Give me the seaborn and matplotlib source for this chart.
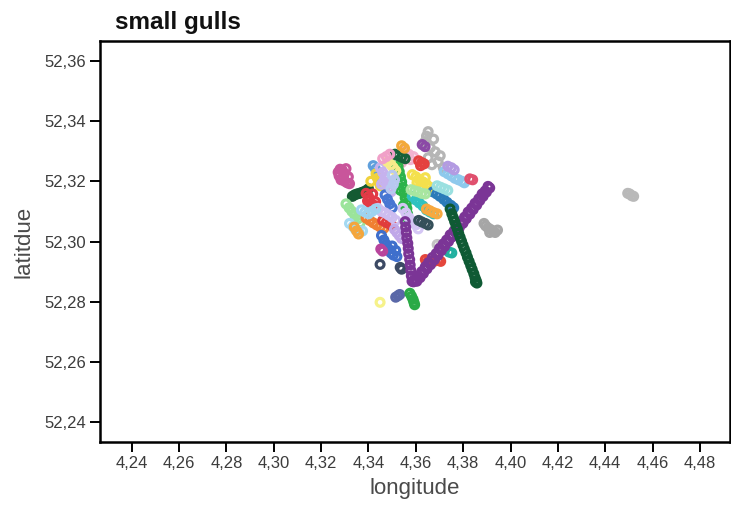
import numpy as np
import pandas as pd
import matplotlib
matplotlib.use("Agg")
import matplotlib.pyplot as plt
import seaborn as sns

# ---- GPS fixes per individual (longitude / latitude, decimal degrees) ----
lon_g01 = [4.3652, 4.3639, 4.3661, 4.3682, 4.3652, 4.3694, 4.3716, 4.3668, 4.3703, 4.3645, 4.3675]
lat_g01 = [52.3365, 52.3332, 52.3312, 52.3298, 52.3278, 52.3265, 52.3245, 52.3255, 52.3285, 52.3350, 52.3340]
lon_g02 = [4.3555, 4.3570, 4.3590, 4.3578, 4.3540]
lat_g02 = [52.3300, 52.3290, 52.3282, 52.3272, 52.3262]
lon_g03 = [4.3272, 4.3280, 4.3290, 4.3298, 4.3292, 4.3284, 4.3300, 4.3310, 4.3320, 4.3315, 4.3276, 4.3305]
lat_g03 = [52.3230, 52.3240, 52.3236, 52.3225, 52.3212, 52.3205, 52.3200, 52.3195, 52.3192, 52.3215, 52.3218, 52.3242]
lon_g04 = [4.3332, 4.3342, 4.3352, 4.3362, 4.3372, 4.3382, 4.3392, 4.3400]
lat_g04 = [52.3150, 52.3155, 52.3158, 52.3160, 52.3163, 52.3166, 52.3170, 52.3175]
lon_g05 = [4.3390, 4.3400, 4.3396, 4.3410, 4.3420, 4.3405, 4.3418, 4.3430, 4.3425]
lat_g05 = [52.3160, 52.3150, 52.3135, 52.3125, 52.3115, 52.3140, 52.3158, 52.3132, 52.3120]
lon_g06 = [4.3420, 4.3430, 4.3436, 4.3440]
lat_g06 = [52.3252, 52.3240, 52.3228, 52.3215]
lon_g07 = [4.3432, 4.3438, 4.3444, 4.3450, 4.3410]
lat_g07 = [52.3225, 52.3210, 52.3198, 52.3185, 52.3200]
lon_g08 = [4.3450, 4.3460, 4.3470, 4.3465, 4.3478, 4.3488, 4.3495, 4.3455]
lat_g08 = [52.3245, 52.3230, 52.3215, 52.3200, 52.3190, 52.3178, 52.3165, 52.3190]
lon_g09 = [4.3520, 4.3525, 4.3530, 4.3535, 4.3540, 4.3545, 4.3550, 4.3555, 4.3560, 4.3562, 4.3565, 4.3568, 4.3548, 4.3535, 4.3515]
lat_g09 = [52.3268, 52.3250, 52.3232, 52.3215, 52.3198, 52.3180, 52.3162, 52.3145, 52.3128, 52.3110, 52.3092, 52.3075, 52.3120, 52.3170, 52.3240]
lon_g10 = [4.3585, 4.3600, 4.3615, 4.3630, 4.3645, 4.3660, 4.3640, 4.3620, 4.3605]
lat_g10 = [52.3222, 52.3215, 52.3205, 52.3198, 52.3190, 52.3180, 52.3212, 52.3185, 52.3195]
lon_g11 = [4.3585, 4.3600, 4.3615, 4.3630, 4.3645, 4.3660, 4.3675]
lat_g11 = [52.3150, 52.3138, 52.3128, 52.3118, 52.3105, 52.3098, 52.3092]
lon_g12 = [4.3672, 4.3688, 4.3702, 4.3718, 4.3732, 4.3748, 4.3760]
lat_g12 = [52.3165, 52.3158, 52.3150, 52.3140, 52.3130, 52.3120, 52.3112]
lon_g13 = [4.3720, 4.3735, 4.3750, 4.3765, 4.3780, 4.3795, 4.3805]
lat_g13 = [52.3232, 52.3225, 52.3218, 52.3210, 52.3205, 52.3200, 52.3195]
lon_g14 = [4.3828, 4.3840]
lat_g14 = [52.3208, 52.3205]
lon_g15 = [4.3305, 4.3318, 4.3330, 4.3342, 4.3355, 4.3365]
lat_g15 = [52.3125, 52.3112, 52.3100, 52.3088, 52.3075, 52.3062]
lon_g16 = [4.3320, 4.3335, 4.3345, 4.3360, 4.3375]
lat_g16 = [52.3060, 52.3050, 52.3040, 52.3030, 52.3035]
lon_g17 = [4.3390, 4.3405, 4.3420, 4.3435, 4.3450, 4.3465]
lat_g17 = [52.3078, 52.3070, 52.3062, 52.3055, 52.3048, 52.3044]
lon_g18 = [4.3460, 4.3475, 4.3490, 4.3500]
lat_g18 = [52.3070, 52.3063, 52.3058, 52.3052]
lon_g19 = [4.3340, 4.3350, 4.3358]
lat_g19 = [52.3048, 52.3035, 52.3025]
lon_g20 = [4.3545, 4.3558, 4.3570, 4.3585, 4.3600, 4.3610]
lat_g20 = [52.3110, 52.3095, 52.3080, 52.3068, 52.3055, 52.3042]
lon_g21 = [4.3645, 4.3660, 4.3675, 4.3690]
lat_g21 = [52.3108, 52.3102, 52.3096, 52.3092]
lon_g22 = [4.3612, 4.3625, 4.3640, 4.3652]
lat_g22 = [52.3070, 52.3065, 52.3060, 52.3055]
lon_g23 = [4.3470, 4.3480, 4.3490, 4.3500]
lat_g23 = [52.3155, 52.3140, 52.3125, 52.3112]
lon_g24 = [4.3455, 4.3465, 4.3475, 4.3485, 4.3495, 4.3505, 4.3515, 4.3500, 4.3520]
lat_g24 = [52.3020, 52.3005, 52.2990, 52.2975, 52.2962, 52.2955, 52.2970, 52.2985, 52.2950]
lon_g25 = [4.3452, 4.3460]
lat_g25 = [52.2975, 52.2968]
lon_g26 = [4.3449, 4.3534, 4.3540]
lat_g26 = [52.2924, 52.2914, 52.2908]
lon_g27 = [4.3515, 4.3525, 4.3532]
lat_g27 = [52.2815, 52.2820, 52.2824]
lon_g28 = [4.3575, 4.3582, 4.3588, 4.3592, 4.3595]
lat_g28 = [52.2828, 52.2818, 52.2808, 52.2798, 52.2790]
lon_g29 = [4.3449]
lat_g29 = [52.2798]
lon_g30 = [4.3640, 4.3652, 4.3665, 4.3680, 4.3695, 4.3705]
lat_g30 = [52.2940, 52.2935, 52.2932, 52.2935, 52.2938, 52.2934]
lon_g31 = [4.3690, 4.3705, 4.3720]
lat_g31 = [52.2990, 52.2985, 52.2980]
lon_g32 = [4.3740, 4.3752]
lat_g32 = [52.2965, 52.2962]
lon_g33 = [4.3888, 4.3895, 4.3905, 4.3915, 4.3925, 4.3935, 4.3945, 4.3912]
lat_g33 = [52.3060, 52.3052, 52.3045, 52.3040, 52.3035, 52.3030, 52.3038, 52.3030]
lon_g34 = [4.4495, 4.4503, 4.4512, 4.4520]
lat_g34 = [52.3160, 52.3158, 52.3152, 52.3150]
lon_g35 = [4.3612, 4.3625, 4.3635, 4.3620]
lat_g35 = [52.3268, 52.3262, 52.3258, 52.3252]
lon_g36 = [4.3512, 4.3525, 4.3540, 4.3555]
lat_g36 = [52.3290, 52.3285, 52.3280, 52.3275]
lon_g37 = [4.3540, 4.3552]
lat_g37 = [52.3318, 52.3310]
lon_g38 = [4.3627, 4.3639]
lat_g38 = [52.3322, 52.3315]
lon_g39 = [4.3735, 4.3750, 4.3762]
lat_g39 = [52.3250, 52.3245, 52.3238]
lon_g40 = [4.3800]
lat_g40 = [52.3063]
lon_g43 = [4.3440, 4.3455, 4.3470, 4.3485, 4.3500, 4.3515]
lat_g43 = [52.3110, 52.3100, 52.3095, 52.3088, 52.3080, 52.3070]
lon_g44 = [4.3370, 4.3385, 4.3400, 4.3415, 4.3430]
lat_g44 = [52.3105, 52.3098, 52.3092, 52.3100, 52.3108]
lon_g45 = [4.3580, 4.3595, 4.3610, 4.3625, 4.3640]
lat_g45 = [52.3172, 52.3168, 52.3165, 52.3160, 52.3158]
lon_g46 = [4.3480, 4.3495, 4.3505, 4.3515]
lat_g46 = [52.3265, 52.3255, 52.3245, 52.3235]
lon_g47 = [4.3500, 4.3510, 4.3505, 4.3495]
lat_g47 = [52.3220, 52.3205, 52.3190, 52.3175]
lon_g48 = [4.3460, 4.3475, 4.3490]
lat_g48 = [52.3275, 52.3282, 52.3290]
lon_g49 = [4.3690, 4.3705, 4.3720, 4.3735]
lat_g49 = [52.3185, 52.3180, 52.3175, 52.3170]
lon_g50 = [4.3510, 4.3520, 4.3530, 4.3540]
lat_g50 = [52.3040, 52.3030, 52.3020, 52.3010]
# long commuting tracks
lon_g41 = [4.3905, 4.3893, 4.3880, 4.3866, 4.3850, 4.3836, 4.3821, 4.3806, 4.3790, 4.3775,
           4.3761, 4.3745, 4.3730, 4.3716, 4.3700, 4.3686, 4.3670, 4.3654, 4.3640, 4.3625,
           4.3610, 4.3597, 4.3590,
           4.3912, 4.3898, 4.3884, 4.3870, 4.3857, 4.3842, 4.3828, 4.3813, 4.3798, 4.3783,
           4.3768, 4.3753, 4.3738, 4.3722, 4.3708, 4.3693, 4.3678, 4.3662, 4.3647, 4.3632,
           4.3618, 4.3604,
           4.3555, 4.3557, 4.3560, 4.3562, 4.3566, 4.3568, 4.3570, 4.3574, 4.3576, 4.3579,
           4.3581, 4.3584]
lat_g41 = [52.3183, 52.3168, 52.3158, 52.3142, 52.3127, 52.3111, 52.3098, 52.3081, 52.3066, 52.3052,
           52.3035, 52.3022, 52.3005, 52.2992, 52.2977, 52.2960, 52.2947, 52.2930, 52.2916, 52.2900,
           52.2886, 52.2873, 52.2866,
           52.3178, 52.3164, 52.3150, 52.3136, 52.3121, 52.3106, 52.3091, 52.3076, 52.3060, 52.3045,
           52.3030, 52.3015, 52.3000, 52.2984, 52.2970, 52.2954, 52.2939, 52.2923, 52.2909, 52.2894,
           52.2880, 52.2868,
           52.3066, 52.3048, 52.3030, 52.3012, 52.2994, 52.2977, 52.2959, 52.2940, 52.2922, 52.2904,
           52.2886, 52.2868]
lon_g42 = [4.3745, 4.3752, 4.3758, 4.3764, 4.3770, 4.3776, 4.3781, 4.3787, 4.3793, 4.3799,
           4.3805, 4.3812, 4.3818, 4.3825, 4.3832, 4.3838, 4.3845, 4.3850, 4.3855, 4.3858, 4.3852]
lat_g42 = [52.3108, 52.3092, 52.3079, 52.3066, 52.3052, 52.3040, 52.3027, 52.3014, 52.3001, 52.2988,
           52.2975, 52.2962, 52.2948, 52.2934, 52.2920, 52.2907, 52.2893, 52.2880, 52.2870, 52.2862, 52.2866]

tracks = {
    "g01": (lon_g01, lat_g01), "g02": (lon_g02, lat_g02), "g03": (lon_g03, lat_g03),
    "g04": (lon_g04, lat_g04), "g05": (lon_g05, lat_g05), "g06": (lon_g06, lat_g06),
    "g07": (lon_g07, lat_g07), "g08": (lon_g08, lat_g08), "g09": (lon_g09, lat_g09),
    "g10": (lon_g10, lat_g10), "g11": (lon_g11, lat_g11), "g12": (lon_g12, lat_g12),
    "g13": (lon_g13, lat_g13), "g14": (lon_g14, lat_g14), "g15": (lon_g15, lat_g15),
    "g16": (lon_g16, lat_g16), "g17": (lon_g17, lat_g17), "g18": (lon_g18, lat_g18),
    "g19": (lon_g19, lat_g19), "g20": (lon_g20, lat_g20), "g21": (lon_g21, lat_g21),
    "g22": (lon_g22, lat_g22), "g23": (lon_g23, lat_g23), "g24": (lon_g24, lat_g24),
    "g25": (lon_g25, lat_g25), "g26": (lon_g26, lat_g26), "g27": (lon_g27, lat_g27),
    "g28": (lon_g28, lat_g28), "g29": (lon_g29, lat_g29), "g30": (lon_g30, lat_g30),
    "g31": (lon_g31, lat_g31), "g32": (lon_g32, lat_g32), "g33": (lon_g33, lat_g33),
    "g34": (lon_g34, lat_g34), "g35": (lon_g35, lat_g35), "g36": (lon_g36, lat_g36),
    "g37": (lon_g37, lat_g37), "g38": (lon_g38, lat_g38), "g39": (lon_g39, lat_g39),
    "g40": (lon_g40, lat_g40), "g43": (lon_g43, lat_g43), "g44": (lon_g44, lat_g44),
    "g45": (lon_g45, lat_g45), "g46": (lon_g46, lat_g46), "g47": (lon_g47, lat_g47),
    "g48": (lon_g48, lat_g48), "g49": (lon_g49, lat_g49), "g50": (lon_g50, lat_g50),
    "g41": (lon_g41, lat_g41), "g42": (lon_g42, lat_g42),
}

bird_colors = {
    "g01": "#b5b5b5", "g02": "#f2b3d0", "g03": "#c9559b", "g04": "#145a32", "g05": "#e23a46",
    "g06": "#5f9fdc", "g07": "#f0d23c", "g08": "#c6b2ee", "g09": "#2db34a", "g10": "#f4e04d",
    "g11": "#30c2c0", "g12": "#2b7bb9", "g13": "#8ec9ec", "g14": "#e0506e", "g15": "#9be49b",
    "g16": "#a4d9f2", "g17": "#f08032", "g18": "#e03c3c", "g19": "#f4a63c", "g20": "#d4c6f4",
    "g21": "#f7a940", "g22": "#35505a", "g23": "#4877d2", "g24": "#3f6fcc", "g25": "#b8449c",
    "g26": "#3c4a64", "g27": "#5a68a8", "g28": "#2aaa46", "g29": "#f6f28a", "g30": "#e4463c",
    "g31": "#c4c4c4", "g32": "#22b0a0", "g33": "#a6a6a6", "g34": "#b9b9b9", "g35": "#e4413f",
    "g36": "#17613a", "g37": "#f3a93a", "g38": "#8b4aa6", "g39": "#b39be2", "g40": "#8e4fb0",
    "g43": "#cdbdf0", "g44": "#9ed3f0", "g45": "#a8e6a0", "g46": "#f7ea8a", "g47": "#b8c8f0",
    "g48": "#f0a0c8", "g49": "#9ae0e0", "g50": "#c0a8e8",
    "g41": "#7b3596", "g42": "#0f5a34",
}

x_ticks = [4.24, 4.26, 4.28, 4.30, 4.32, 4.34, 4.36, 4.38, 4.40, 4.42, 4.44, 4.46, 4.48]
y_ticks = [52.24, 52.26, 52.28, 52.30, 52.32, 52.34, 52.36]

frames = [pd.DataFrame({"bird": b, "longitude": lo, "latitude": la})
          for b, (lo, la) in tracks.items()]
df = pd.concat(frames, ignore_index=True)

sns.set_style("white")
plt.rcParams["font.family"] = ["Liberation Sans", "DejaVu Sans"]

fig = plt.figure(figsize=(7.31, 5.15), dpi=100)
ax = fig.add_axes([100 / 731, 1 - 442 / 515, 630 / 731, 401 / 515])

sns.scatterplot(data=df, x="longitude", y="latitude", hue="bird",
                palette=bird_colors, marker="o", s=32, legend=False, ax=ax)

# hollow rings: move the hue colour from face to edge
coll = ax.collections[0]
fc = coll.get_facecolors()
coll.set_edgecolors(fc)
coll.set_facecolors("none")
coll.set_linewidths(2.3)

ax.set_xlim(4.2266, 4.4927)
ax.set_ylim(52.2334, 52.3666)
ax.set_xticks(x_ticks)
ax.set_yticks(y_ticks)
ax.set_xticklabels([f"{v:.2f}".replace(".", ",") for v in x_ticks])
ax.set_yticklabels([f"{v:.2f}".replace(".", ",") for v in y_ticks])
ax.tick_params(axis="both", direction="out", length=7, width=1.4, color="black",
               labelsize=12, labelcolor="#3c3c3c", pad=3,
               bottom=True, left=True)

for sp in ax.spines.values():
    sp.set_color("black")
    sp.set_linewidth(1.8)

ax.set_xlabel("longitude", fontsize=16, color="#4a4a4a", labelpad=5)
ax.set_ylabel("latitdue", fontsize=16, color="#4a4a4a", labelpad=7)

fig.text(115 / 731, 1 - 23 / 515, "small gulls", fontsize=17.5, fontweight="bold",
         ha="left", va="center", color="#111111")

fig.savefig("out.png", dpi=100, facecolor="white")
